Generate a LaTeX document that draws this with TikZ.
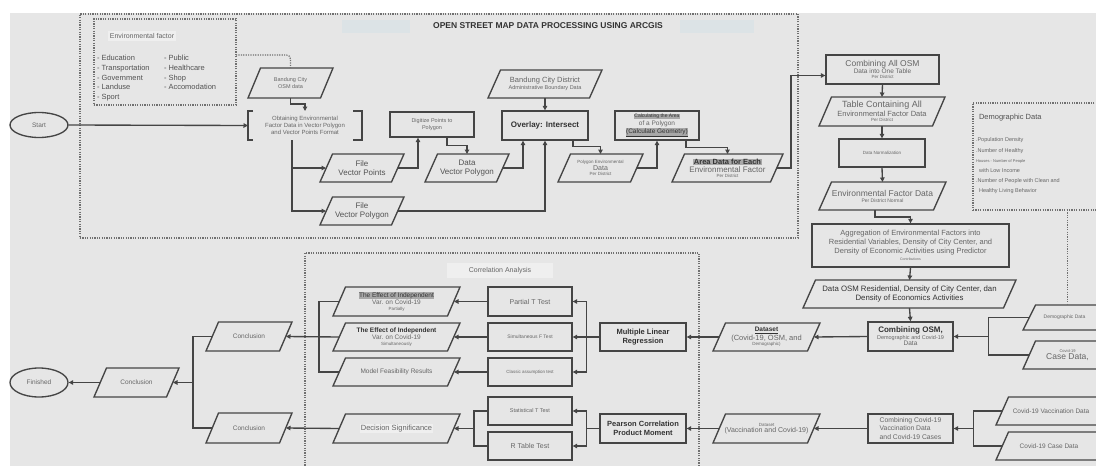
\documentclass[tikz,border=0pt]{standalone}
\usepackage{fontspec}
\setmainfont{Liberation Sans}
\usetikzlibrary{calc,arrows.meta,shapes.geometric}
\definecolor{bgc}{HTML}{E6E6E6}
\definecolor{linec}{HTML}{454545}
\definecolor{txt}{HTML}{666666}
\definecolor{dtxt}{HTML}{333333}
\definecolor{dotc}{HTML}{707070}
\definecolor{hl}{HTML}{EFEFEF}
\definecolor{dhl}{HTML}{A8A8A8}
\definecolor{blu}{HTML}{DCE3E6}
\newcommand{\fs}[1]{\fontsize{#1}{\fpeval{1.2*#1}}\selectfont}
\setlength{\fboxsep}{0.6pt}
\tikzset{
  conn/.style={draw=linec, line width=1.35pt},
  arr/.style={conn, -{Triangle[length=4.5pt,width=4.5pt]}},
  dotline/.style={draw=dotc, line width=1.2pt, dash pattern=on 1.2pt off 1.2pt},
  dotbox/.style={dotline, inner sep=0pt, outer sep=0pt},
  rbox/.style={draw=linec, line width=1.35pt, inner sep=1pt, align=center, text=txt, font=\fs{6.5}},
  pbase/.style={draw=none, inner sep=1pt, outer sep=0pt, align=center, text=txt, font=\fs{6.5}},
  pline/.style={draw=linec, line width=1.35pt, line join=miter},
  oval/.style={ellipse, draw=linec, line width=1.35pt, inner sep=0pt, text=txt, font=\fs{6.5}},
  lbl/.style={inner sep=0pt, outer sep=0pt, text=txt},
}
\begin{document}
\begin{tikzpicture}[x=1pt,y=-1pt]
\useasboundingbox (0,0) rectangle (1096,466);
\clip (0,0) rectangle (1096,466);
\fill[white] (0,0) rectangle (1096,466);
\fill[bgc] (10,13) rectangle (1096,466);

% ---------- frames ----------
\node[dotbox, minimum width=718pt, minimum height=224pt] (osmbox) at (439,126) {};
\node[dotbox, minimum width=142pt, minimum height=86pt] (envbox) at (165,62) {};
\node[dotbox, minimum width=394pt, minimum height=227pt] (corrbox) at (502,366.5) {};
\node[dotbox, minimum width=132pt, minimum height=107pt] (demobox) at (1039,156.5) {};

\fill[blu] (342,20) rectangle (410,33);
\fill[blu] (680,20) rectangle (754,33);
\node[lbl, text=dtxt, font=\fs{8.5}\bfseries] (title) at (548,26) {OPEN STREET MAP DATA PROCESSING USING ARCGIS};

\node[lbl, fill=hl, inner sep=2pt, font=\fs{7}] (envtitle) at (142,36) {Environmental factor};
\node[lbl, anchor=north west, align=left, text=dtxt!85, font=\fontsize{7.5}{9.8}\selectfont] (envcol1) at (97,55)
  {- Education\\- Transportation\\- Government\\- Landuse\\- Sport};
\node[lbl, anchor=north west, align=left, text=dtxt!85, font=\fontsize{7.5}{9.8}\selectfont] (envcol2) at (164,55)
  {- Public\\- Healthcare\\- Shop\\- Accomodation};

\node[lbl, anchor=west, font=\fs{7.5}, text=dtxt!85] (demotitle) at (979,118) {Demographic Data};
\node[lbl, anchor=north west, align=left, font=\fontsize{5.5}{10.1}\selectfont] (demolist) at (976,138)
  {.Population Density\\.Number of Healthy\\{\fs{4}Houses - Number of People}\\\ \ with Low Income\\.Number of People with Clean and\\\ \ Healthy Living Behavior};

\node[lbl, fill=hl, minimum width=106pt, minimum height=15pt, font=\fs{7}] (corrtitle) at (500,270.5) {Correlation Analysis};

% ---------- terminals ----------
\node[oval, minimum width=58pt, minimum height=25pt] (start) at (39,125) {Start};
\node[oval, minimum width=58pt, minimum height=29pt] (finished) at (39,382.5) {Finished};

% ---------- top section ----------
\node[pbase, minimum width=114pt, minimum height=29pt, font=\fs{6}] (obtain) at (305,125.5)
  {Obtaining Environmental\\Factor Data in Vector Polygon\\and Vector Points Format};
\node[pbase, minimum width=85pt, minimum height=30pt, font=\fs{5.5}] (bosm) at (290.5,83) {Bandung City\\OSM data};
\node[rbox, minimum width=84pt, minimum height=25pt, font=\fs{5.5}] (digitize) at (432,124.5) {Digitize Points to\\Polygon\hspace{6pt}};
\node[rbox, minimum width=86pt, minimum height=29pt, text=dtxt, font=\fs{8}\bfseries] (overlay) at (545,125.5) {Overlay: Intersect};
\node[pbase, minimum width=114pt, minimum height=28pt, font=\fs{5.5}] (district) at (545,84)
  {{\fs{7.5}Bandung City District}\\Administrative Boundary Data};
\node[rbox, minimum width=84pt, minimum height=29pt, font=\fs{6.5}] (calc) at (657,125.5)
  {{\fs{5}\colorbox{dhl}{\textcolor{dtxt}{Calculating the Area}}}\\of a Polygon\\{\textcolor{dtxt}{\colorbox{dhl}{\underline{(Calculate Geometry)}}}}};
\node[pbase, minimum width=84pt, minimum height=28pt, text=dtxt!85, font=\fs{8}] (fvp) at (362,168) {File\\Vector Points};
\node[pbase, minimum width=84pt, minimum height=28pt, text=dtxt!85, font=\fs{8}] (fvpoly) at (362,211) {File\\Vector Polygon};
\node[pbase, minimum width=84pt, minimum height=28pt, text=dtxt!85, font=\fs{8}] (dvp) at (467,168) {Data\\Vector Polygon};
\node[pbase, minimum width=85pt, minimum height=28pt, font=\fs{4.5}] (polyenv) at (600.5,168)
  {Polygon Environmental\\{\fs{7}Data}\hspace{20pt}\\Per District};
\node[pbase, minimum width=111pt, minimum height=28pt, font=\fs{4.5}] (areadata) at (727.5,168)
  {{\fs{7.5}\bfseries\colorbox{dhl}{\textcolor{dtxt}{Area Data for Each}}}\\{\fs{8}Environmental Factor}\\Per District};

% ---------- right column ----------
\node[rbox, minimum width=113pt, minimum height=29pt, font=\fs{4.5}] (comball) at (882.5,69.5)
  {{\fs{8.5}Combining All OSM}\\{\fs{6.5}Data into One Table}\\Per District};
\node[pbase, minimum width=126pt, minimum height=29pt, font=\fs{4.5}] (table) at (882,111.5)
  {{\fs{9}Table Containing All}\\{\fs{7.5}Environmental Factor Data}\\Per District};
\node[rbox, minimum width=86pt, minimum height=28pt, font=\fs{4.5}] (norm) at (882,153) {Data Normalization};
\node[pbase, minimum width=127pt, minimum height=28pt, font=\fs{5}] (envnorm) at (882.5,196)
  {{\fs{8.5}Environmental Factor Data}\\Per District Normal\hspace{16pt}};
\node[rbox, minimum width=197pt, minimum height=43pt, font=\fs{7.5}] (aggr) at (910.5,245.5)
  {Aggregation of Environmental Factors into\\Residential Variables, Density of City Center, and\\Density of Economic Activities using Predictor\\[-2pt]{\fs{3.5}Contributions}};
\node[pbase, minimum width=213pt, minimum height=28pt, text=dtxt, font=\fs{7.8}] (dataosm) at (909.5,294)
  {Data OSM Residential, Density of City Center, dan\\Density of Economics Activities};
\node[rbox, minimum width=85pt, minimum height=29pt, font=\fs{5.5}] (combosm) at (910.5,336.5)
  {{\fs{8}\bfseries\textcolor{dtxt}{Combining OSM,}}\\Demographic and Covid-19\\{\fs{6.5}Data}};
\node[rbox, minimum width=85pt, minimum height=29pt, align=left, font=\fs{6.8}] (combvacc) at (910.5,428.5)
  {Combining Covid-19\\Vaccination Data\\and Covid-19 Cases};
\node[pbase, minimum width=89pt, minimum height=25pt, font=\fs{5}] (demodata) at (1067.5,317.5) {Demographic Data\hspace{6pt}};
\node[pbase, minimum width=89pt, minimum height=28pt, font=\fs{4}] (casedata) at (1067.5,355)
  {Covid-19\\{\fs{8.5}Case Data,}\hspace{14pt}};
\node[pbase, minimum width=116pt, minimum height=28pt, font=\fs{6.5}] (vaccdata) at (1054,411) {Covid-19 Vaccination Data\hspace{6pt}};
\node[pbase, minimum width=116pt, minimum height=28pt, font=\fs{6.5}] (covcase) at (1054,446) {Covid-19 Case Data\hspace{10pt}};

% ---------- bottom section ----------
\node[pbase, minimum width=107pt, minimum height=28pt, font=\fs{4.5}] (dsmain) at (766.5,337)
  {{\fs{6.5}\bfseries\textcolor{dtxt}{\underline{Dataset}}}\\{\fs{7.5}(Covid-19, OSM, and}\\Demographic)};
\node[pbase, minimum width=107pt, minimum height=29pt, font=\fs{4.5}] (dsvacc) at (766.5,428.5)
  {Dataset\\{\fs{7}(Vaccination and Covid-19)}};
\node[rbox, minimum width=86pt, minimum height=28pt, text=dtxt, font=\fs{7.5}\bfseries] (mlr) at (643,337) {Multiple Linear\\Regression};
\node[rbox, minimum width=86pt, minimum height=29pt, text=dtxt, font=\fs{7.5}\bfseries] (pearson) at (643,428.5) {Pearson Correlation\\Product Moment};
\node[rbox, minimum width=84pt, minimum height=29pt, font=\fs{7}] (partialT) at (530,301.5) {Partial T Test};
\node[rbox, minimum width=84pt, minimum height=28pt, font=\fs{5}] (simF) at (530,337) {Simultaneous F Test};
\node[rbox, minimum width=84pt, minimum height=28pt, font=\fs{4.5}] (classic) at (530,372) {Classic assumption test};
\node[rbox, minimum width=84pt, minimum height=28pt, font=\fs{5.5}] (statT) at (530,411) {Statistical T Test};
\node[rbox, minimum width=84pt, minimum height=28pt, font=\fs{7}] (rtable) at (530,446) {R Table Test};
\node[pbase, minimum width=127pt, minimum height=29pt, font=\fs{4.5}] (effP) at (396.5,301.5)
  {{\fs{6.5}\colorbox{dhl}{\textcolor{dtxt}{The Effect of Independent}}}\\{\fs{6.5}Var. on Covid-19}\hspace{34pt}\\Partially};
\node[pbase, minimum width=127pt, minimum height=28pt, font=\fs{4.5}] (effS) at (396.5,337)
  {{\fs{6.5}\bfseries\textcolor{dtxt}{The Effect of Independent}}\\{\fs{6.5}Var. on Covid-19}\hspace{34pt}\\Simultaneously};
\node[pbase, minimum width=127pt, minimum height=28pt, font=\fs{6.5}] (model) at (396.5,372) {Model Feasibility Results};
\node[pbase, minimum width=127pt, minimum height=29pt, font=\fs{7.5}] (decis) at (396.5,428.5) {\colorbox{hl}{Decision Significance}};
\node[pbase, minimum width=86pt, minimum height=29pt, font=\fs{6.5}] (concT) at (249,336.5) {Conclusion};
\node[pbase, minimum width=86pt, minimum height=30pt, font=\fs{6.5}] (concB) at (249,428) {Conclusion};
\node[pbase, minimum width=85pt, minimum height=29pt, font=\fs{6.5}] (concM) at (136.5,382.5) {Conclusion};

% ---------- parallelogram outlines ----------
\foreach \n in {bosm,district,fvp,fvpoly,dvp,polyenv,areadata,table,envnorm,dataosm,demodata,casedata,vaccdata,covcase,dsmain,dsvacc,effP,effS,model,decis,concT,concB,concM}
  {\draw[pline] ($(\n.north west)+(12.5,0)$) -- (\n.north east) -- ($(\n.south east)+(-12.5,0)$) -- (\n.south west) -- cycle;}

% bracket box
\draw[conn] ($(obtain.north west)+(5,0)$) -- (obtain.north west) -- (obtain.south west) -- ++(5,0);
\draw[conn] ($(obtain.north east)+(-9,0)$) -- (obtain.north east) -- (obtain.south east) -- ++(-9,0);

% ---------- connectors: top ----------
\draw[dotline, rounded corners=4pt] (envbox.east |- 0,55) -| (bosm.north);
\draw[arr] (start.east) -- (obtain.west);
\draw[arr] (bosm.south) -- ++(0,6) -| (obtain.north);
\coordinate (ob) at ($(obtain.south)+(-13,0)$);
\draw[arr] (ob) |- ($(fvp.west)+(6,0)$);
\draw[arr] (ob) |- ($(fvpoly.west)+(6,0)$);
\draw[arr] ($(fvp.east)+(-6,0)$) -| ($(digitize.south)+(-14,0)$);
\draw[arr] ($(digitize.south)+(15,0)$) -- ++(0,8) -| (dvp.north);
\draw[arr] ($(dvp.east)+(-6,0)$) -| ($(overlay.south)+(-22,0)$);
\draw[arr] ($(fvpoly.east)+(-6,0)$) -| (overlay.south);
\draw[arr] (district.south) -- (overlay.north);
\draw[arr] ($(overlay.south)+(28,0)$) -- ++(0,6) -| (polyenv.north);
\draw[arr] ($(polyenv.east)+(-6,0)$) -| (calc.south);
\draw[arr] ($(calc.south)+(29,0)$) -- ++(0,7) -| (areadata.north);
\draw[arr] ($(areadata.east)+(-6,0)$) -- ++(14,0) |- ($(comball.west)+(0,6)$);

% ---------- connectors: right column ----------
\draw[arr] (comball.south) -- (table.north);
\draw[arr] (table.south) -- (norm.north);
\draw[arr] (norm.south) -- (envnorm.north);
\draw[arr] ($(envnorm.south)+(-7.5,0)$) -- ++(0,7) -| (aggr.north);
\draw[arr] (aggr.south) -- (dataosm.north);
\draw[arr] (dataosm.south) -- (combosm.north);
\draw[dotline] (demobox.south -| demodata.north) -- (demodata.north);
\coordinate (j2) at ($(combosm.east)+(35,0)$);
\draw[conn] ($(demodata.west)+(6,0)$) -| (j2);
\draw[conn] ($(casedata.west)+(6,0)$) -| (j2);
\draw[arr] (j2) -- (combosm.east);
\coordinate (j7) at ($(combvacc.east)+(20,0)$);
\draw[conn] ($(vaccdata.west)+(6,0)$) -| (j7);
\draw[conn] ($(covcase.west)+(6,0)$) -| (j7);
\draw[arr] (j7) -- (combvacc.east);

% ---------- connectors: bottom ----------
\draw[arr] (combosm.west) -- ($(dsmain.east)+(-6,0)$);
\draw[arr] ($(dsmain.west)+(6,0)$) -- (mlr.east);
\coordinate (j3) at ($(mlr.west)+(-13,0)$);
\draw[arr] (mlr.west) -- (simF.east);
\draw[arr] (j3) |- (partialT.east);
\draw[arr] (j3) |- (classic.east);
\draw[arr] (combvacc.west) -- ($(dsvacc.east)+(-6,0)$);
\draw[arr] ($(dsvacc.west)+(6,0)$) -- (pearson.east);
\coordinate (j6) at ($(pearson.west)+(-13,0)$);
\draw[conn] (pearson.west) -- (j6);
\draw[arr] (j6) |- (statT.east);
\draw[arr] (j6) |- (rtable.east);
\draw[arr] (partialT.west) -- ($(effP.east)+(-6,0)$);
\draw[arr] (simF.west) -- ($(effS.east)+(-6,0)$);
\draw[arr] (classic.west) -- ($(model.east)+(-6,0)$);
\coordinate (j5) at ($(decis.east)+(14,0)$);
\draw[conn] (statT.west) -| (j5);
\draw[conn] (rtable.west) -| (j5);
\draw[arr] (j5) -- ($(decis.east)+(-6,0)$);
\coordinate (j4) at ($(effS.west)+(-14,0)$);
\draw[conn] ($(effP.west)+(6,0)$) -| (j4);
\draw[conn] ($(model.west)+(6,0)$) -| (j4);
\draw[arr] ($(effS.west)+(6,0)$) -- ($(concT.east)+(-6,0)$);
\draw[arr] ($(decis.west)+(6,0)$) -- ($(concB.east)+(-6,0)$);
\coordinate (j8) at ($(concM.east)+(14,0)$);
\draw[conn] ($(concT.west)+(6,0)$) -| (j8);
\draw[conn] ($(concB.west)+(6,0)$) -| (j8);
\draw[arr] (j8) -- ($(concM.east)+(-6,0)$);
\draw[arr] ($(concM.west)+(6,0)$) -- (finished.east);
\end{tikzpicture}
\end{document}
